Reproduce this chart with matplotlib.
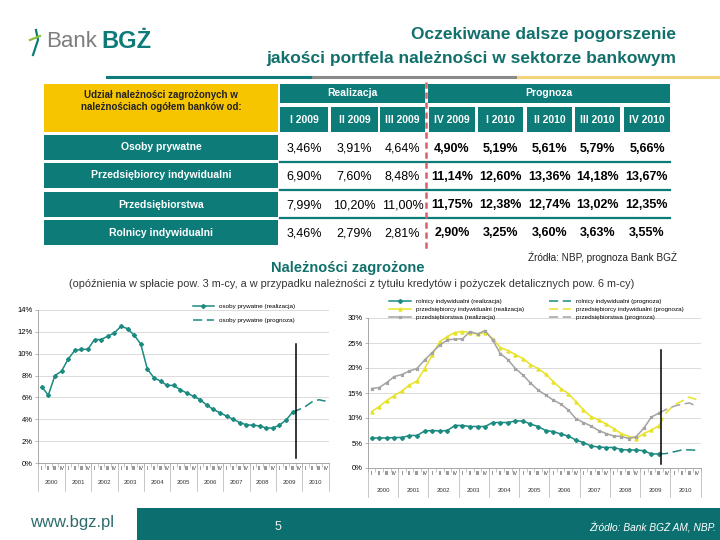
import matplotlib
matplotlib.use('Agg')
import matplotlib.pyplot as plt
import matplotlib.transforms as mtransforms
from matplotlib.patches import Rectangle
from matplotlib.lines import Line2D
import numpy as np

plt.rcParams['font.family'] = ['Liberation Sans', 'DejaVu Sans']

# --- data -------------------------------------------------------------
quarters = ['I', 'II', 'III', 'IV']
years = ['2000', '2001', '2002', '2003', '2004', '2005',
         '2006', '2007', '2008', '2009', '2010']

# realizacja: 2000 Q1 .. 2009 Q3, prognoza: 2009 Q3 .. 2010 Q4
osoby_real = [7.0, 6.2, 8.0, 8.4, 9.5, 10.3, 10.4, 10.4, 11.3, 11.3,
              11.6, 11.9, 12.5, 12.3, 11.7, 10.9, 8.6, 7.8, 7.5, 7.1,
              7.1, 6.7, 6.4, 6.1, 5.8, 5.3, 4.9, 4.6, 4.3, 4.0,
              3.7, 3.5, 3.45, 3.4, 3.2, 3.2, 3.46, 3.91, 4.64]
osoby_prog = [4.64, 4.90, 5.19, 5.61, 5.79, 5.66]

rolnicy_real = [6.0, 6.0, 6.0, 6.1, 6.1, 6.5, 6.5, 7.4, 7.5, 7.4,
                7.5, 8.5, 8.5, 8.3, 8.3, 8.3, 9.1, 9.1, 9.1, 9.4,
                9.4, 8.8, 8.3, 7.5, 7.3, 6.8, 6.4, 5.6, 5.1, 4.4,
                4.2, 4.1, 4.1, 3.7, 3.6, 3.6, 3.46, 2.79, 2.81]
rolnicy_prog = [2.81, 2.90, 3.25, 3.60, 3.63, 3.55]

przed_ind_real = [11.3, 12.3, 13.5, 14.5, 15.4, 16.6, 17.4, 19.9, 22.6, 25.3,
                  26.3, 27.1, 27.3, 27.1, 26.8, 27.1, 25.9, 24.1, 23.5, 22.7,
                  21.9, 20.7, 19.9, 18.8, 17.3, 15.9, 14.9, 13.3, 11.6, 10.3,
                  9.6, 8.8, 7.9, 6.9, 6.3, 5.9, 6.90, 7.60, 8.48]
przed_ind_prog = [8.48, 11.14, 12.60, 13.36, 14.18, 13.67]

przeds_real = [15.9, 16.1, 17.1, 18.3, 18.7, 19.4, 19.9, 21.6, 23.1, 24.6,
               25.6, 25.8, 25.8, 27.3, 26.8, 27.5, 25.6, 22.9, 21.7, 19.9,
               18.6, 17.0, 15.6, 14.6, 13.6, 12.8, 11.6, 9.9, 9.1, 8.4,
               7.5, 6.9, 6.4, 6.3, 5.9, 6.3, 7.99, 10.20, 11.00]
przeds_prog = [11.00, 11.75, 12.38, 12.74, 13.02, 12.35]

table_rows = ['Osoby prywatne', 'Przedsiębiorcy indywidualni',
              'Przedsiębiorstwa', 'Rolnicy indywidualni']
table_cols = ['I 2009', 'II 2009', 'III 2009', 'IV 2009',
              'I 2010', 'II 2010', 'III 2010', 'IV 2010']
table_vals = [
    ['3,46%', '3,91%', '4,64%', '4,90%', '5,19%', '5,61%', '5,79%', '5,66%'],
    ['6,90%', '7,60%', '8,48%', '11,14%', '12,60%', '13,36%', '14,18%', '13,67%'],
    ['7,99%', '10,20%', '11,00%', '11,75%', '12,38%', '12,74%', '13,02%', '12,35%'],
    ['3,46%', '2,79%', '2,81%', '2,90%', '3,25%', '3,60%', '3,63%', '3,55%'],
]
n_real = 3  # first three columns are "Realizacja"

TEAL = '#0d7b78'
TITLE = '#11706c'
YELLOW_BOX = '#f6c500'
LINE_TEAL = '#1b8a80'
LINE_YEL = '#e9e22a'
LINE_GRAY = '#a3a3a3'

W, H = 720, 540
fig = plt.figure(figsize=(7.2, 5.4), dpi=100)
fig.patch.set_facecolor('white')


def fx(x):
    return x / W


def fy(y):
    return 1 - y / H


def box(x0, y0, x1, y1, color):
    fig.add_artist(Rectangle((fx(x0), fy(y1)), (x1 - x0) / W, (y1 - y0) / H,
                             transform=fig.transFigure, facecolor=color,
                             edgecolor='none'))


def hline(x0, x1, y, color, lw, ls='-'):
    fig.add_artist(Line2D([fx(x0), fx(x1)], [fy(y), fy(y)], transform=fig.transFigure,
                          color=color, lw=lw, ls=ls))


# --- header ----------------------------------------------------------
fig.add_artist(Line2D([fx(33), fx(38), fx(36)], [fy(55), fy(40), fy(30)],
                      transform=fig.transFigure, color=TEAL, lw=1.6))
fig.add_artist(Line2D([fx(30), fx(40)], [fy(40), fy(36)], transform=fig.transFigure,
                      color='#8cbf3f', lw=1.6))
fig.text(fx(46), fy(42), 'Bank', fontsize=16, color='#7d7d7d', va='center')
fig.text(fx(101), fy(42), 'BGŻ', fontsize=17, color=TEAL, weight='bold', va='center')

fig.text(fx(676), fy(35), 'Oczekiwane dalsze pogorszenie', fontsize=12.5,
         color=TITLE, weight='bold', ha='right', va='center')
fig.text(fx(676), fy(58), 'jakości portfela należności w sektorze bankowym',
         fontsize=12.5, color=TITLE, weight='bold', ha='right', va='center')
hline(107, 313, 77, TEAL, 2.2)
hline(313, 518, 77, '#8a8a8a', 2.2)
hline(518, 720, 77, '#f3d27a', 2.2)

# --- table -----------------------------------------------------------
col_x = [(280, 328), (331, 378), (380, 425), (429, 475),
         (478, 523), (527, 572), (575, 620), (624, 670)]
row_y = [(135, 160), (163, 188), (192, 217), (220, 245)]

box(44, 84, 278, 132, YELLOW_BOX)
fig.text(fx(161), fy(101), 'Udział należności zagrożonych w\nnależnościach ogółem banków od:',
         fontsize=7, weight='bold', color='#222222', ha='center', va='center',
         linespacing=1.3)
box(280, 84, 425, 103, TEAL)
box(428, 84, 670, 103, TEAL)
fig.text(fx(352), fy(93), 'Realizacja', fontsize=7.5, weight='bold', color='white',
         ha='center', va='center')
fig.text(fx(549), fy(93), 'Prognoza', fontsize=7.5, weight='bold', color='white',
         ha='center', va='center')
for (x0, x1), lab in zip(col_x, table_cols):
    box(x0, 107, x1, 132, TEAL)
    fig.text(fx((x0 + x1) / 2), fy(120), lab, fontsize=7.5, weight='bold',
             color='white', ha='center', va='center')

for r, ((y0, y1), name) in enumerate(zip(row_y, table_rows)):
    box(44, y0, 278, y1, TEAL)
    fig.text(fx(161), fy((y0 + y1) / 2), name, fontsize=7.5, weight='bold',
             color='white', ha='center', va='center')
    for c, (x0, x1) in enumerate(col_x):
        fig.text(fx((x0 + x1) / 2), fy((y0 + y1) / 2 + 1), table_vals[r][c],
                 fontsize=9, weight='bold' if c >= n_real else 'normal',
                 color='black', ha='center', va='center')
for y in (162, 190, 218):
    hline(280, 670, y, TEAL, 1.6)
fig.add_artist(Line2D([fx(426), fx(426)], [fy(82), fy(250)], transform=fig.transFigure,
                      color='#d9606a', lw=1.8, ls=(0, (2.5, 1.5))))

fig.text(fx(677), fy(257), 'Źródła: NBP, prognoza Bank BGŻ', fontsize=7.2,
         ha='right', va='center', color='#222222')
fig.text(fx(348), fy(268), 'Należności zagrożone', fontsize=10.5, weight='bold',
         color=TITLE, ha='center', va='center')
fig.text(fx(352), fy(284),
         '(opóźnienia w spłacie pow. 3 m-cy, a w przypadku należności z tytułu '
         'kredytów i pożyczek detalicznych pow. 6 m-cy)',
         fontsize=7.8, color='#333333', ha='center', va='center')

# --- charts ----------------------------------------------------------
x_all = np.arange(len(years) * len(quarters))
x_real = x_all[:len(osoby_real)]
x_prog = x_all[len(osoby_real) - 1:]
q_labels = quarters * len(years)


def style_axis(ax, ymax, ystep, quarter_off, year_off, sep_off):
    ax.set_xlim(-0.5, len(x_all) - 0.5)
    ax.set_ylim(0, ymax)
    ax.set_yticks(np.arange(0, ymax + 0.1, ystep))
    ax.set_yticklabels([f'{int(v)}%' for v in np.arange(0, ymax + 0.1, ystep)])
    ax.yaxis.grid(True, color='#d6d6d6', lw=0.6)
    ax.set_axisbelow(True)
    for s in ('top', 'right'):
        ax.spines[s].set_visible(False)
    ax.spines['left'].set_color('#9a9a9a')
    ax.spines['bottom'].set_color('#9a9a9a')
    ax.spines['left'].set_linewidth(0.6)
    ax.spines['bottom'].set_linewidth(0.6)
    ax.tick_params(axis='y', labelsize=5.5, length=2, width=0.5, color='#9a9a9a', pad=2)
    ax.set_xticks(x_all)
    ax.set_xticklabels(q_labels, fontsize=3.8, color='#333333')
    ax.tick_params(axis='x', which='major', length=0, pad=quarter_off)
    ax.set_xticks(np.arange(-0.5, len(x_all), 1), minor=True)
    ax.tick_params(axis='x', which='minor', length=3, width=0.4, color='#9a9a9a')
    tr = mtransforms.blended_transform_factory(ax.transData, ax.transAxes)
    for k in range(len(years) + 1):
        ax.plot([4 * k - 0.5] * 2, [0, sep_off], transform=tr, clip_on=False,
                color='#b0b0b0', lw=0.5)
    for k, yr in enumerate(years):
        ax.text(4 * k + 1.5, year_off, yr, transform=tr, fontsize=4.3,
                ha='center', va='center', color='#333333')


# left chart
axL = fig.add_axes([fx(38.4), fy(463), 290.4 / W, 153 / H])
style_axis(axL, 14, 2, 2.5, -0.13, -0.18)
axL.plot(x_real, osoby_real, color=LINE_TEAL, lw=1.1, marker='D', ms=2,
         label='osoby prywatne (realizacja)')
axL.plot(x_prog, osoby_prog, color=LINE_TEAL, lw=1.1, ls=(0, (6, 3)),
         label='osoby prywatne (prognoza)')
axL.axvline(38.6, ymin=0.03, ymax=0.78, color='black', lw=1.1)
axL.legend(loc='upper left', bbox_to_anchor=(0.52, 1.06), fontsize=4.5,
           frameon=False, handlelength=3.5, labelspacing=1.3, borderpad=0)

# right chart
axR = fig.add_axes([fx(367.9), fy(468), 332.7 / W, 150 / H])
style_axis(axR, 30, 5, 2.5, -0.15, -0.19)
h1, = axR.plot(x_real, rolnicy_real, color=LINE_TEAL, lw=1.1, marker='P', ms=2.5,
               label='rolnicy indywidualni (realizacja)')
h2, = axR.plot(x_real, przed_ind_real, color=LINE_YEL, lw=1.1, marker='^', ms=2.2,
               label='przedsiębiorcy indywidualni (realizacja)')
h3, = axR.plot(x_real, przeds_real, color=LINE_GRAY, lw=1.1, marker='x', ms=2,
               label='przedsiębiorstwa (realizacja)')
h4, = axR.plot(x_prog, rolnicy_prog, color=LINE_TEAL, lw=1.1, ls=(0, (6, 3)),
               label='rolnicy indywidualni (prognoza)')
h5, = axR.plot(x_prog, przed_ind_prog, color=LINE_YEL, lw=1.1, ls=(0, (6, 3)),
               label='przedsiębiorcy indywidualni (prognoza)')
h6, = axR.plot(x_prog, przeds_prog, color=LINE_GRAY, lw=1.1, ls=(0, (6, 3)),
               label='przedsiębiorstwa (prognoza)')
axR.axvline(38.2, ymin=0.03, ymax=0.79, color='black', lw=1.1)
axR.legend(handles=[h1, h2, h3, h4, h5, h6], ncol=2, loc='upper left',
           bbox_to_anchor=(0.055, 1.15), fontsize=4.5, frameon=False,
           handlelength=3.5, labelspacing=0.45, columnspacing=4.0, borderpad=0)

# --- footer ----------------------------------------------------------
box(137, 508, 720, 540, '#0b6f70')
fig.text(fx(30), fy(522), 'www.bgz.pl', fontsize=12, color='#2f6b6c', va='center')
fig.text(fx(278), fy(527), '5', fontsize=9, color='#e8f0f0', ha='center', va='center')
fig.text(fx(716), fy(528), 'Źródło: Bank BGŻ AM, NBP.', fontsize=7.3, style='italic',
         color='white', ha='right', va='center')

fig.savefig('out.png', dpi=100, facecolor='white')
